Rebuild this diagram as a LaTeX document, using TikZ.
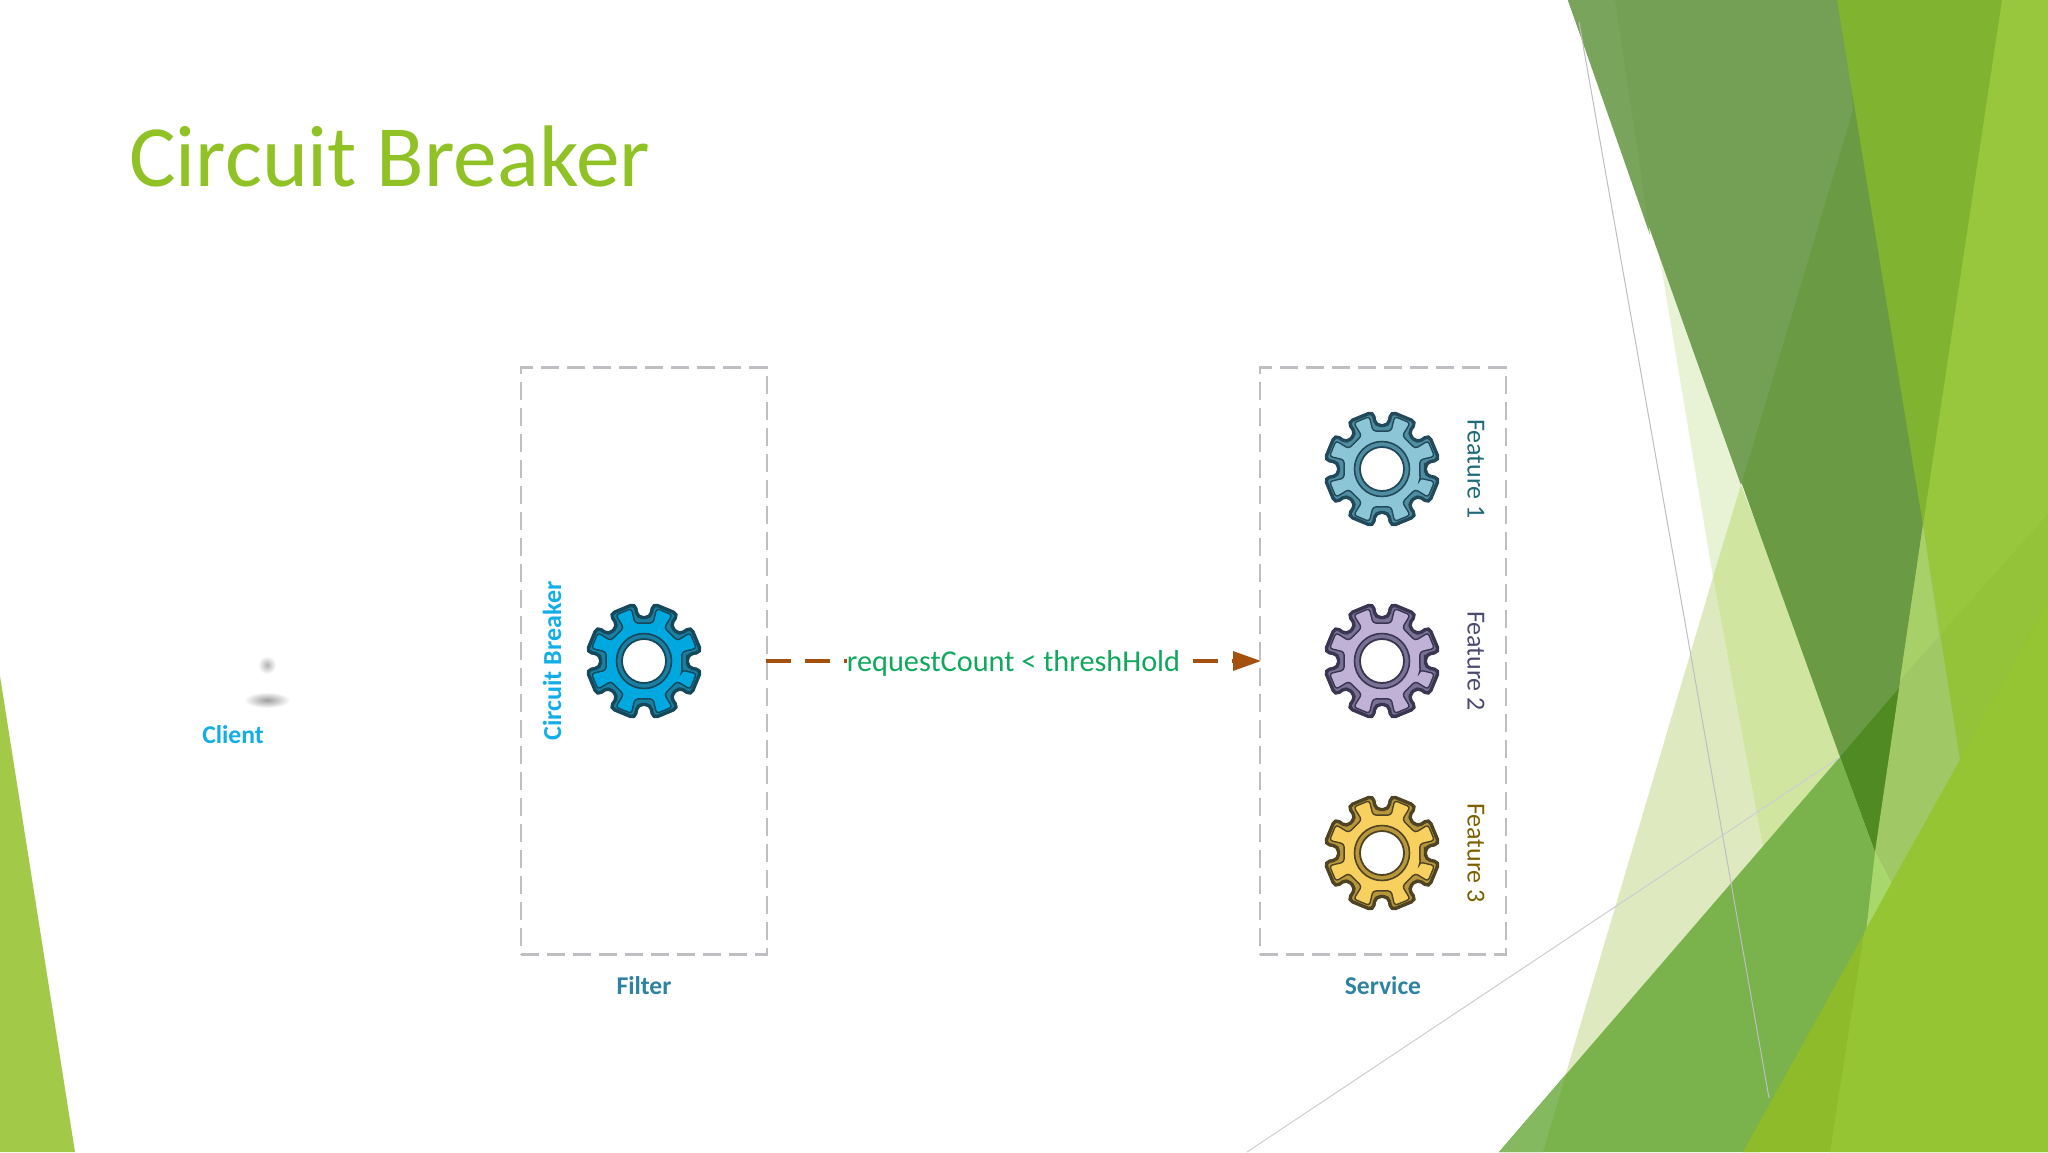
\documentclass[tikz,border=0pt]{standalone}
\usepackage{fontspec}
\setmainfont{Carlito}
\usetikzlibrary{%
	positioning,%
	arrows.meta%
}
\definecolor{titlegreen}{HTML}{90C226}
\definecolor{clientblue}{HTML}{12AEE8}
\definecolor{boxteal}{HTML}{2E83A0}
\definecolor{boxgray}{HTML}{BEBEC3}
\definecolor{flowbrown}{HTML}{A5500F}
\definecolor{flowgreen}{HTML}{10A85C}
\definecolor{featA}{HTML}{1F6A78}
\definecolor{featB}{HTML}{4A4A70}
\definecolor{featC}{HTML}{7F6000}
\definecolor{bluefill}{HTML}{00A8E0}
\definecolor{blueband}{HTML}{1A7FA0}
\definecolor{blueedge}{HTML}{14485A}
\definecolor{tealfill}{HTML}{8CC6D6}
\definecolor{tealband}{HTML}{4F8EA2}
\definecolor{tealedge}{HTML}{21495A}
\definecolor{lilacfill}{HTML}{BFB2D6}
\definecolor{lilacband}{HTML}{7A7296}
\definecolor{lilacedge}{HTML}{3A3550}
\definecolor{goldfill}{HTML}{F8D060}
\definecolor{goldband}{HTML}{B8963C}
\definecolor{goldedge}{HTML}{4E4424}
\definecolor{leafleft}{HTML}{A2C948}
\definecolor{palea}{HTML}{E8F2D4}
\definecolor{paleb}{HTML}{CFE5A0}
\definecolor{palec}{HTML}{DEE9C0}
\definecolor{darka}{HTML}{74A055}
\definecolor{darkb}{HTML}{6A9A44}
\definecolor{darkc}{HTML}{78A45C}
\definecolor{darkd}{HTML}{4F8A22}
\definecolor{lima}{HTML}{80B32F}
\definecolor{limb}{HTML}{98C63C}
\definecolor{limc}{HTML}{A0C864}
\definecolor{limd}{HTML}{A8D068}
\definecolor{lime}{HTML}{A8D86C}
\definecolor{limf}{HTML}{94C238}
\definecolor{banda}{HTML}{7AB24C}
\definecolor{bandb}{HTML}{85B95F}
\definecolor{footA}{HTML}{8DBB2A}
\definecolor{footB}{HTML}{95C532}
\tikzset{
	dashbox/.style={draw=boxgray,line width=2.4pt,dash pattern=on 18pt off 8pt,minimum width=245.5pt,minimum height=587pt,inner sep=0pt},
	boxname/.style={text=boxteal,font=\fontsize{25.6}{28}\selectfont\bfseries,inner sep=0pt},
	featname/.style={font=\fontsize{26}{28}\selectfont,rotate=-90,inner sep=0pt},
	flowline/.style={draw=flowbrown,line width=3.2pt,dash pattern=on 25pt off 13.8pt,shorten <=-2pt,shorten >=-2pt,-{Stealth[length=28pt,width=19pt,inset=0pt]}},
	flowlabel/.style={fill=white,text=flowgreen,font=\fontsize{30.3}{34}\selectfont,inner xsep=0pt,inner ysep=4pt,yshift=-2pt},
	hairline/.style={draw=#1,line width=1pt},
	pics/gear/.style n args={3}{code={
		\filldraw[fill=#2,draw=#3,line width=3.4pt,rounded corners=5pt] (8.5:44)
			\foreach \a in {22.5,67.5,...,337.5}{
				-- (\a-14:44) -- (\a-13.5:58) -- (\a+13.5:58) -- (\a+14:44)
			} -- cycle;
		\filldraw[fill=#1,draw=#3,line width=1.4pt,rounded corners=3pt] (14:39)
			\foreach \a in {22.5,67.5,...,337.5}{
				-- (\a-9:39) -- (\a-9:54) -- (\a+9:54) -- (\a+9:39)
			} -- cycle;
		\filldraw[fill=#2,draw=#3,line width=1.6pt] (0,0) circle (27.5);
		\filldraw[fill=white,draw=#3,line width=1.8pt] (0,0) circle (22);
	}}
}

\begin{document}
\begin{tikzpicture}[x=1pt,y=-1pt]
	\useasboundingbox (0,0) rectangle (2048,1152);
	\fill[white] (0,0) rectangle (2048,1152);
	%
	\fill[leafleft] (0,676) -- (75,1152) -- (0,1152) -- cycle;
	\fill[palea] (1659,253) -- (1745,495) -- (1713,577) -- cycle;
	\fill[palec] (1713,577) -- (1775,913) -- (1551,1124) -- cycle;
	\fill[paleb] (1741,485) -- (1860,790) -- (1775,913) -- (1713,577) -- cycle;
	\fill[darkb] (1568,0) -- (1845,0) -- (1926,525) -- (1878,852) -- (1875,852) -- (1840,757) -- cycle;
	\fill[darka] (1568,0) -- (1845,0) -- (1853,110) -- (1741,485) -- cycle;
	\fill[darkc] (1568,0) -- (1615,0) -- (1650,235) -- cycle;
	\fill[darkd] (1840,757) -- (1900,687) -- (1875,852) -- cycle;
	\fill[lima] (1837,0) -- (2010,0) -- (1930,525) -- (1923,525) -- cycle;
	\fill[limb] (2002,0) -- (2048,0) -- (2048,700) -- (1960,860) -- (1923,525) -- cycle;
	\fill[limf] (1939,636) -- (2048,514) -- (2048,700) -- (1960,860) -- cycle;
	\fill[limc] (1923,525) -- (1960,760) -- (1940,830) -- (1900,900) -- (1875,852) -- cycle;
	\fill[limd] (1923,525) -- (1939,636) -- (1900,680) -- cycle;
	\fill[banda] (1499,1152) -- (1840,757) -- (1875,852) -- (1880,933) -- (1760,1152) -- cycle;
	\fill[bandb] (1499,1152) -- (1566,1074) -- (1543,1152) -- cycle;
	\fill[lime] (1875,852) -- (1900,900) -- (1864,950) -- cycle;
	\fill[footA] (1743,1152) -- (2048,602) -- (2048,1152) -- cycle;
	\fill[footB] (1830,1152) -- (1864,933) -- (1888,889) -- (2048,602) -- (2048,1152) -- cycle;
	%
	\coordinate (lineatop) at (1579,22);
	\coordinate (lineabot) at (1769,1098);
	\coordinate (linebbot) at (1247,1152);
	\coordinate (linebtop) at (1840,757);
	\draw[hairline=boxgray] (lineatop) -- (lineabot);
	\draw[hairline=boxgray!75] (linebbot) -- (linebtop);
	%
	\node[anchor=base west,inner sep=0pt,text=titlegreen,font=\fontsize{87.4}{96}\selectfont] (title) at (129,186) {Circuit Breaker};
	\node[text=clientblue,font=\fontsize{25.6}{28}\selectfont\bfseries,inner sep=0pt] (client) at (233,735) {Client};
	\shade[inner color=black!30,outer color=white] (267,665) ellipse (9 and 9);
	\shade[inner color=black!38,outer color=white] (267,700) ellipse (23 and 8);
	%
	\node[dashbox] (filterbox) at (644,661) {};
	\node[dashbox] (servicebox) at (1383,661) {};
	\node[boxname,below=21pt of filterbox] (filtername) {Filter};
	\node[boxname,below=21pt of servicebox] (servicename) {Service};
	\node[text=clientblue,font=\fontsize{26}{28}\selectfont\bfseries,rotate=90,inner sep=0pt] (breakername) at (552,661) {Circuit Breaker};
	\node[featname,text=featA] (feat1) at (1476,469) {Feature 1};
	\node[featname,text=featB] (feat2) at (1476,661) {Feature 2};
	\node[featname,text=featC] (feat3) at (1476,853) {Feature 3};
	%
	\pic (breakergear) at (644,661) {gear={bluefill}{blueband}{blueedge}};
	\pic (featgearA) at (1382,469) {gear={tealfill}{tealband}{tealedge}};
	\pic (featgearB) at (1382,661) {gear={lilacfill}{lilacband}{lilacedge}};
	\pic (featgearC) at (1382,853) {gear={goldfill}{goldband}{goldedge}};
	%
	\draw[flowline] (filterbox.east) -- node[flowlabel] (reqlabel) {requestCount < threshHold} (servicebox.west);
\end{tikzpicture}
\end{document}
